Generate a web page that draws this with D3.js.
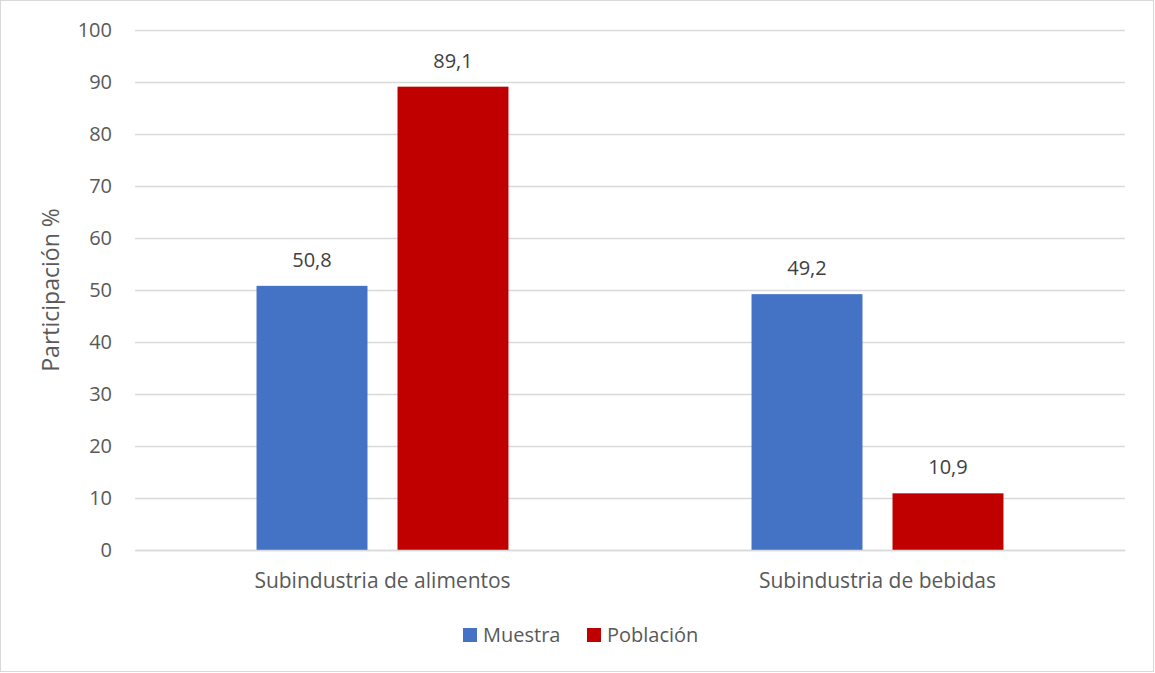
<!DOCTYPE html>
<html><head><meta charset="utf-8">
<script src="https://cdn.jsdelivr.net/npm/d3@7"></script>
<style>body{margin:0;background:#fff;}svg{display:block;font-family:"Open Sans",sans-serif;}</style>
</head><body>
<svg id="c" width="1155" height="673"></svg>
<script>
const categories = ["Subindustria de alimentos", "Subindustria de bebidas"];
const seriesNames = ["Muestra", "Población"];
const muestra = [50.8, 49.2];
const poblacion = [89.1, 10.9];
const yTicks = [0,10,20,30,40,50,60,70,80,90,100];
const colors = ["#4472C4", "#C00000"];

const svg = d3.select("#c");
const W=1155,H=673;
const FF="'Open Sans',sans-serif";
svg.append("rect").attr("x",0.5).attr("y",0.5).attr("width",W-2).attr("height",H-2)
  .attr("fill","#fff").attr("stroke","#d9d9d9");
const L=135,R=1125,T=30,B=550;
const x = d3.scaleBand().domain(categories).range([L,R]);
const xs = d3.scaleBand().domain(seriesNames).range([0,x.bandwidth()]).paddingInner(0.213).paddingOuter(0.862);
const y = d3.scaleLinear().domain([0,100]).range([B,T]);
const txt="#595959";
const gy = svg.append("g").attr("transform",`translate(${L},0)`)
  .call(d3.axisLeft(y).tickValues(yTicks).tickSize(-(R-L)).tickPadding(23));
gy.select(".domain").remove();
gy.selectAll(".tick line").attr("stroke","#d9d9d9").attr("stroke-width",1.3);
gy.selectAll(".tick text").attr("fill",txt).style("font-size","20px").style("font-family",FF);
const data = categories.map((c,i)=>({c, vals:[muestra[i],poblacion[i]]}));
data.forEach(d=>{
  d.vals.forEach((v,j)=>{
    const bx = x(d.c)+xs(seriesNames[j]);
    svg.append("rect").attr("x",bx).attr("y",y(v)).attr("width",xs.bandwidth()).attr("height",B-y(v)).attr("fill",colors[j]);
    svg.append("text").attr("x",bx+xs.bandwidth()/2).attr("y",y(v)-19).attr("text-anchor","middle")
      .attr("fill","#404040").style("font-size","20px").text(String(v).replace(".",","));
  });
});
const gx = svg.append("g").attr("transform",`translate(0,${B})`).call(d3.axisBottom(x).tickSize(0).tickPadding(23));
gx.select(".domain").attr("stroke","#d9d9d9").attr("stroke-width",1.3);
gx.selectAll(".tick text").attr("fill",txt).style("font-size","21px").style("font-family",FF);
svg.append("text").attr("transform",`translate(59,${(T+B)/2}) rotate(-90)`).attr("text-anchor","middle")
  .attr("fill",txt).style("font-size","23px").text("Participación %");
const lg = [{x:463},{x:587}];
seriesNames.forEach((s,j)=>{
  svg.append("rect").attr("x",lg[j].x).attr("y",628).attr("width",14).attr("height",14).attr("fill",colors[j]);
  svg.append("text").attr("x",lg[j].x+20).attr("y",642).attr("fill",txt).style("font-size","20px").text(s);
});
</script>
</body></html>
